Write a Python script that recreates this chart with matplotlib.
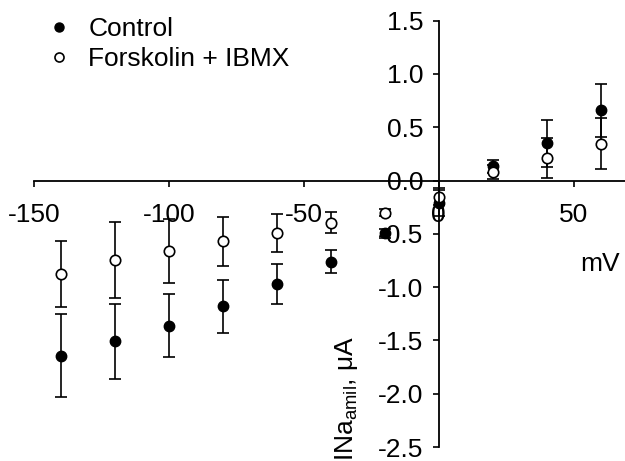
import matplotlib
matplotlib.use("Agg")
import matplotlib.pyplot as plt
from matplotlib.lines import Line2D

plt.rcParams['font.family'] = ['Liberation Sans', 'DejaVu Sans']
plt.rcParams['mathtext.default'] = 'regular'

voltage = [-140, -120, -100, -80, -60, -40, -20, 0, 20, 40, 60]
control = [-1.645, -1.51, -1.36, -1.18, -0.97, -0.76, -0.495, -0.21, 0.135, 0.35, 0.66]
control_err = [0.39, 0.35, 0.30, 0.25, 0.19, 0.11, 0.04, 0.12, 0.06, 0.22, 0.25]
forsk = [-0.88, -0.745, -0.66, -0.57, -0.49, -0.395, -0.30, -0.15, 0.08, 0.21, 0.345]
forsk_err = [0.31, 0.36, 0.30, 0.23, 0.18, 0.10, 0.03, 0.08, 0.07, 0.19, 0.24]

xticks = [-150, -100, -50, 0, 50]
yticks = [-2.5, -2.0, -1.5, -1.0, -0.5, 0.0, 0.5, 1.0, 1.5]
ytick_labels = ['-2.5', '-2.0', '-1.5', '-1.0', '-0.5', '0.0', '0.5', '1.0', '1.5']
series_labels = ['Control', 'Forskolin + IBMX']

fig = plt.figure(figsize=(6.25, 4.61), dpi=100)
ax = fig.add_axes([34/625, 14/461, 1 - 34/625, (447 - 20.7)/461])

fs = 19
ax.errorbar(voltage, control, yerr=control_err, fmt='o', color='black',
            markersize=7.5, markerfacecolor='black', markeredgecolor='black',
            ecolor='black', elinewidth=1.2, capsize=4.3, capthick=1.2)
ax.errorbar(voltage, forsk, yerr=forsk_err, fmt='o', color='black',
            markersize=7.5, markerfacecolor='white', markeredgecolor='black',
            markeredgewidth=1.2, ecolor='black', elinewidth=1.2, capsize=4.3, capthick=1.2)

ax.set_xlim(-150, 69)
ax.set_ylim(-2.5, 1.5)

ax.spines['left'].set_position(('data', 0))
ax.spines['bottom'].set_position(('data', 0))
ax.spines['top'].set_visible(False)
ax.spines['right'].set_visible(False)
for s in ['left', 'bottom']:
    ax.spines[s].set_linewidth(1.3)

ax.set_xticks(xticks)
ax.set_xticklabels([str(t) for t in xticks])
ax.set_yticks(yticks)
ax.set_yticklabels(ytick_labels)
ax.tick_params(axis='x', direction='out', length=4, width=1.2, labelsize=fs, pad=12)
ax.tick_params(axis='y', direction='out', length=4, width=1.2, labelsize=fs, pad=7)

ax.text((600 - 34) / 591, 0.43, 'mV', transform=ax.transAxes, fontsize=fs,
        ha='center', va='center')
fig.text(346/625, 1 - 398/461, 'INa$_{amil}$, μA', rotation=90, fontsize=fs,
         ha='center', va='center')

handles = [Line2D([], [], linestyle='none', marker='o', markersize=6.5,
                  markerfacecolor='black', markeredgecolor='black'),
           Line2D([], [], linestyle='none', marker='o', markersize=6.5,
                  markerfacecolor='white', markeredgecolor='black', markeredgewidth=1.2)]
fig.legend(handles, series_labels, loc='upper left', bbox_to_anchor=(46/625, 1 - 17/461),
           frameon=False, fontsize=fs, handlelength=1.0, handletextpad=0.6,
           labelspacing=0.24, borderpad=0, borderaxespad=0)

fig.savefig('out.png', dpi=100)
